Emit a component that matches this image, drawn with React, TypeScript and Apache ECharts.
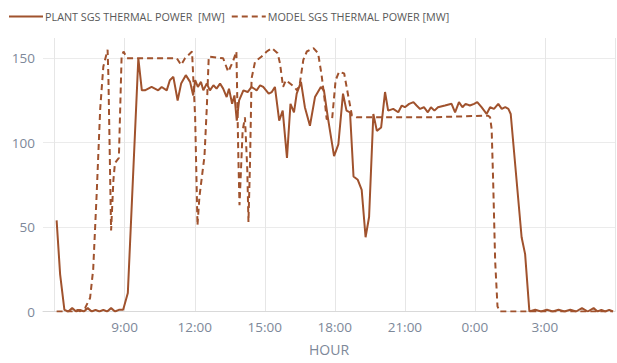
import React, { useEffect, useRef } from 'react';
import * as echarts from 'echarts';

const legendNames = ['PLANT SGS THERMAL POWER  [MW]', 'MODEL SGS THERMAL POWER [MW]'];
const yTickValues = [0, 50, 100, 150];
const xLabelHours = [9, 12, 15, 18, 21, 24, 27];

const plantTime = [
  '6:05', '6:14', '6:25', '6:35', '6:45', '6:55', '7:05', '7:15', '7:25', '7:35', '7:45', '7:55',
  '8:05', '8:15', '8:25', '8:35', '8:45', '8:56', '9:08', '9:35', '9:44', '9:52', '10:09', '10:26',
  '10:35', '10:48', '10:56', '11:05', '11:16', '11:25', '11:37', '11:48', '11:56', '12:01', '12:08', '12:16',
  '12:22', '12:31', '12:39', '12:48', '12:56', '13:05', '13:13', '13:22', '13:28', '13:36', '13:42', '13:48',
  '13:54', '14:05', '14:16', '14:26', '14:39', '14:48', '14:56', '15:10', '15:18', '15:26', '15:37', '15:46',
  '15:57', '16:06', '16:15', '16:22', '16:33', '16:43', '16:56', '17:09', '17:24', '17:32', '17:42', '17:58',
  '18:09', '18:21', '18:30', '18:39', '18:48', '18:59', '19:09', '19:19', '19:28', '19:39', '19:48', '19:59',
  '20:09', '20:17', '20:30', '20:43', '20:52', '21:00', '21:11', '21:22', '21:30', '21:39', '21:49', '21:59',
  '22:07', '22:16', '22:25', '22:43', '23:00', '23:09', '23:19', '23:28', '23:36', '23:47', '23:58', '0:06',
  '0:17', '0:30', '0:39', '0:49', '1:00', '1:09', '1:18', '1:26', '1:32', '2:00', '2:09', '2:20',
  '2:35', '2:50', '3:05', '3:20', '3:35', '3:50', '4:05', '4:20', '4:35', '4:50', '5:05', '5:15',
  '5:25', '5:35', '5:45', '5:55'
];
const plantMW = [
  54, 22, 1, 0, 2, 0, 1, 0, 2, 0, 1, 0,
  1, 0, 2, 0, 1, 1, 11, 150, 131, 131, 133, 131,
  133, 131, 137, 139, 125, 135, 140, 136, 128, 137, 133, 136,
  131, 135, 131, 134, 132, 135, 132, 127, 132, 123, 128, 113,
  125, 131, 130, 133, 131, 134, 133, 129, 130, 133, 113, 119,
  91, 123, 118, 129, 136, 121, 110, 127, 133, 131, 115, 92,
  99, 129, 119, 118, 80, 78, 72, 44, 56, 117, 107, 109,
  130, 119, 120, 118, 122, 121, 123, 124, 122, 120, 121, 118,
  121, 119, 121, 122, 123, 118, 124, 121, 123, 122, 123, 124,
  121, 117, 121, 120, 123, 120, 121, 120, 117, 44, 34, 0,
  1, 0, 1, 0, 1, 0, 1, 0, 2, 0, 2, 0,
  1, 0, 1, 0
];

const modelTime = [
  '6:05', '6:30', '6:50', '7:00', '7:05', '7:12', '7:18', '7:31', '7:39', '7:48', '7:57', '8:05',
  '8:16', '8:18', '8:25', '8:31', '8:35', '8:45', '8:52', '8:57', '9:06', '10:00', '11:00', '11:14',
  '11:25', '11:35', '11:53', '12:01', '12:07', '12:12', '12:25', '12:31', '12:36', '13:13', '13:26', '13:38',
  '13:47', '13:52', '13:55', '14:03', '14:09', '14:15', '14:18', '14:22', '14:26', '14:35', '14:52', '15:05',
  '15:18', '15:33', '15:39', '15:47', '15:54', '16:05', '16:16', '16:23', '16:30', '16:39', '16:48', '17:05',
  '17:17', '17:26', '17:33', '17:39', '17:53', '18:02', '18:11', '18:24', '18:35', '18:44', '18:56', '20:00',
  '22:00', '0:34', '0:39', '0:43', '0:47', '0:52', '0:58', '1:04', '3:00', '5:55'
];
const modelMW = [
  0, 0, 0, 1, 0, 1, 2, 8, 25, 70, 120, 145,
  155, 140, 48, 78, 88, 91, 151, 154, 150, 150, 150, 150,
  146, 150, 154, 115, 51, 68, 92, 121, 151, 150, 142, 148,
  154, 92, 63, 107, 115, 84, 53, 88, 138, 148, 151, 154,
  156, 153, 147, 133, 137, 135, 133, 131, 135, 149, 154, 156,
  153, 140, 127, 114, 114, 137, 142, 141, 127, 116, 115, 115,
  115, 116, 115, 108, 76, 30, 3, 0, 0, 0
];

const toHours = (t: string) => {
  const [h, m] = t.split(':').map(Number);
  return (h < 6 ? h + 24 : h) + m / 60;
};

const LINE = '#a0522d';
const LABEL = '#7d8899';

export default function App() {
  const ref = useRef<HTMLDivElement>(null);
  useEffect(() => {
    if (!ref.current) return;
    const chart = echarts.init(ref.current, null, { renderer: 'svg' });
    const plant = plantTime.map((t, i) => [toHours(t), plantMW[i]]);
    const model = modelTime.map((t, i) => [toHours(t), modelMW[i]]);
    // x ticks every 0.5 h starting at 5.5; grid lines only every 3 h (index % 6 === 1)
    const vColors = ['rgba(0,0,0,0)', '#e6e6e6', 'rgba(0,0,0,0)', 'rgba(0,0,0,0)', 'rgba(0,0,0,0)', 'rgba(0,0,0,0)'];
    chart.setOption({
      animation: false,
      textStyle: { fontFamily: 'Open Sans' },
      legend: {
        data: legendNames,
        left: 8,
        top: 11,
        padding: 0,
        itemWidth: 34,
        itemHeight: 12,
        itemGap: 6,
        itemStyle: { opacity: 0 },
        textStyle: { fontSize: 10.8, color: '#595959', fontFamily: 'Open Sans', padding: [0, 0, 0, -3] },
      },
      grid: { left: 43, right: 2, top: 38, bottom: 51.5, containLabel: false, outerBoundsMode: 'none' },
      xAxis: {
        type: 'value',
        min: 5.5,
        max: 30,
        interval: 0.5,
        axisLine: { show: true, lineStyle: { color: '#d9d9d9', width: 1 } },
        axisTick: { show: false },
        axisLabel: {
          color: LABEL,
          fontSize: 13.5,
          margin: 8,
          formatter: (v: number) => {
            const h = Math.round(v * 2) / 2;
            return xLabelHours.includes(h) ? `${h % 24}:00` : '';
          },
        },
        splitLine: { show: true, lineStyle: { color: vColors, width: 1 } },
        name: 'HOUR',
        nameLocation: 'middle',
        nameGap: 31,
        nameTextStyle: { color: LABEL, fontSize: 14 },
      },
      yAxis: {
        type: 'value',
        min: 0,
        max: 162,
        interval: 50,
        axisLine: { show: false },
        axisTick: { show: false },
        axisLabel: {
          color: LABEL,
          fontSize: 13.5,
          margin: 8,
          showMaxLabel: false,
          formatter: (v: number) => (yTickValues.includes(v) ? String(v) : ''),
        },
        splitLine: { show: true, showMaxLine: false, lineStyle: { color: '#ebebeb', width: 1 } },
      },
      series: [
        {
          name: legendNames[0],
          type: 'line',
          data: plant,
          symbol: 'none',
          lineStyle: { color: LINE, width: 2 },
          itemStyle: { color: LINE },
          z: 3,
        },
        {
          name: legendNames[1],
          type: 'line',
          data: model,
          symbol: 'none',
          lineStyle: { color: LINE, width: 2, type: [6, 4] },
          itemStyle: { color: LINE },
          z: 2,
        },
      ],
    });
    return () => chart.dispose();
  }, []);
  return <div ref={ref} style={{ width: 617, height: 363, position: 'absolute', left: 0, top: 0 }} />;
}
